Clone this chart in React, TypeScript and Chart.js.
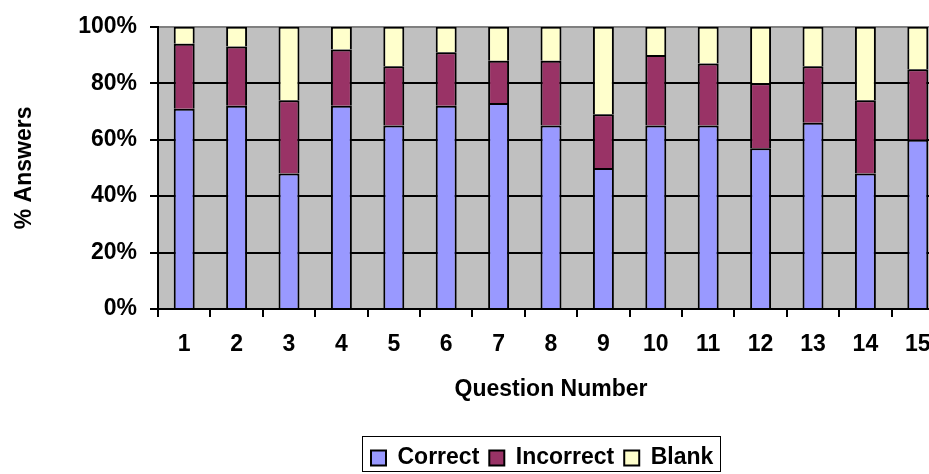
import React, { useEffect, useRef } from 'react';
import { Chart, registerables } from 'chart.js';

Chart.register(...registerables);

const questions = ['1', '2', '3', '4', '5', '6', '7', '8', '9', '10', '11', '12', '13', '14', '15'];
const correct = [71, 72, 48, 72, 65, 72, 73, 65, 50, 65, 65, 57, 66, 48, 60];
const incorrect = [23, 21, 26, 20, 21, 19, 15, 23, 19, 25, 22, 23, 20, 26, 25];
const blank = [6, 7, 26, 8, 14, 9, 12, 12, 31, 10, 13, 20, 14, 26, 15];
const seriesNames = ['Correct', 'Incorrect', 'Blank'];
const yTitle = '% Answers';
const xTitle = 'Question Number';

const FONT_FAMILY = "'Liberation Sans', Arial, sans-serif";
const font = { family: FONT_FAMILY, size: 23, weight: 'bold' as const };

const plotBg = {
  id: 'plotBg',
  beforeDraw(chart: any) {
    const { ctx, chartArea } = chart;
    ctx.save();
    ctx.fillStyle = '#C0C0C0';
    ctx.fillRect(chartArea.left, chartArea.top, chartArea.right - chartArea.left, chartArea.bottom - chartArea.top);
    ctx.restore();
  },
};

const legendPlace = {
  id: 'legendPlace',
  afterLayout(chart: any) {
    const lg = chart.legend;
    if (!lg || !lg.lineWidths) return;
    const pad = lg.options.labels.padding;
    const startX = (lg.left + pad + lg.right - lg.lineWidths[0]) / 2;
    const shift = 371 - startX;
    lg.left += shift;
    lg.right += shift;
  },
  afterDraw(chart: any) {
    const lg = chart.legend;
    if (!lg || !lg.legendHitBoxes || !lg.legendHitBoxes.length) return;
    const hb = lg.legendHitBoxes;
    const first = hb[0];
    const last = hb[hb.length - 1];
    const left = Math.round(first.left - 9) + 0.5;
    const right = Math.round(last.left + last.width + 7) + 0.5;
    const top = Math.round(first.top - 10.5) + 0.5;
    const bottom = Math.round(first.top + first.height + 1.5) + 0.5;
    const { ctx } = chart;
    ctx.save();
    ctx.strokeStyle = '#000';
    ctx.lineWidth = 1;
    ctx.strokeRect(left, top, right - left, bottom - top);
    ctx.restore();
  },
};

export default function App() {
  const canvasRef = useRef<HTMLCanvasElement | null>(null);

  useEffect(() => {
    if (!canvasRef.current) return;
    const chart = new Chart(canvasRef.current, {
      type: 'bar',
      data: {
        labels: questions,
        datasets: [
          { label: seriesNames[0], data: correct, backgroundColor: '#9999FF', borderColor: '#000', borderWidth: 2 },
          { label: seriesNames[1], data: incorrect, backgroundColor: '#993366', borderColor: '#000', borderWidth: 2 },
          { label: seriesNames[2], data: blank, backgroundColor: '#FFFFCC', borderColor: '#000', borderWidth: 2 },
        ],
      },
      options: {
        animation: false,
        responsive: false,
        devicePixelRatio: 1,
        layout: { padding: { top: 25, left: 0, right: 6, bottom: 0.5 } },
        datasets: { bar: { categoryPercentage: 1, barPercentage: 0.4 } },
        plugins: {
          tooltip: { enabled: false },
          legend: {
            position: 'bottom',
            labels: {
              font,
              color: '#000',
              boxWidth: 15,
              boxHeight: 15,
              padding: 10,
            },
          },
        },
        scales: {
          x: {
            stacked: true,
            grid: { drawOnChartArea: false, drawTicks: true, tickLength: 8, color: '#000', lineWidth: 2, offset: true },
            border: { color: '#000', width: 2 },
            ticks: { color: '#000', font, padding: 14.2, maxRotation: 0, autoSkip: false },
            title: { display: true, text: xTitle, color: '#000', font, padding: { top: 0, bottom: 32.7 } },
            afterFit: (s: any) => { s.height = 127.5; },
          },
          y: {
            stacked: true,
            min: 0,
            max: 100,
            ticks: { stepSize: 20, color: '#000', font, padding: 13, callback: (v: any) => v + '%' },
            grid: {
              drawOnChartArea: true,
              color: (c: any) => (c.tick && c.tick.value === 100 ? '#808080' : '#000'),
              tickColor: '#000',
              tickLength: 8,
              lineWidth: 2,
            },
            border: { color: '#000', width: 2 },
            title: { display: true, text: yTitle, color: '#000', font, padding: { top: 11, bottom: 0 } },
            afterFit: (s: any) => { s.width = 158; },
          },
        },
      },
      plugins: [plotBg, legendPlace],
    });
    return () => chart.destroy();
  }, []);

  return (
    <div style={{ position: 'fixed', left: 0, top: 0, width: 929, height: 474, overflow: 'hidden', background: '#fff' }}>
      <canvas ref={canvasRef} width={950} height={480} style={{ display: 'block' }} />
    </div>
  );
}
